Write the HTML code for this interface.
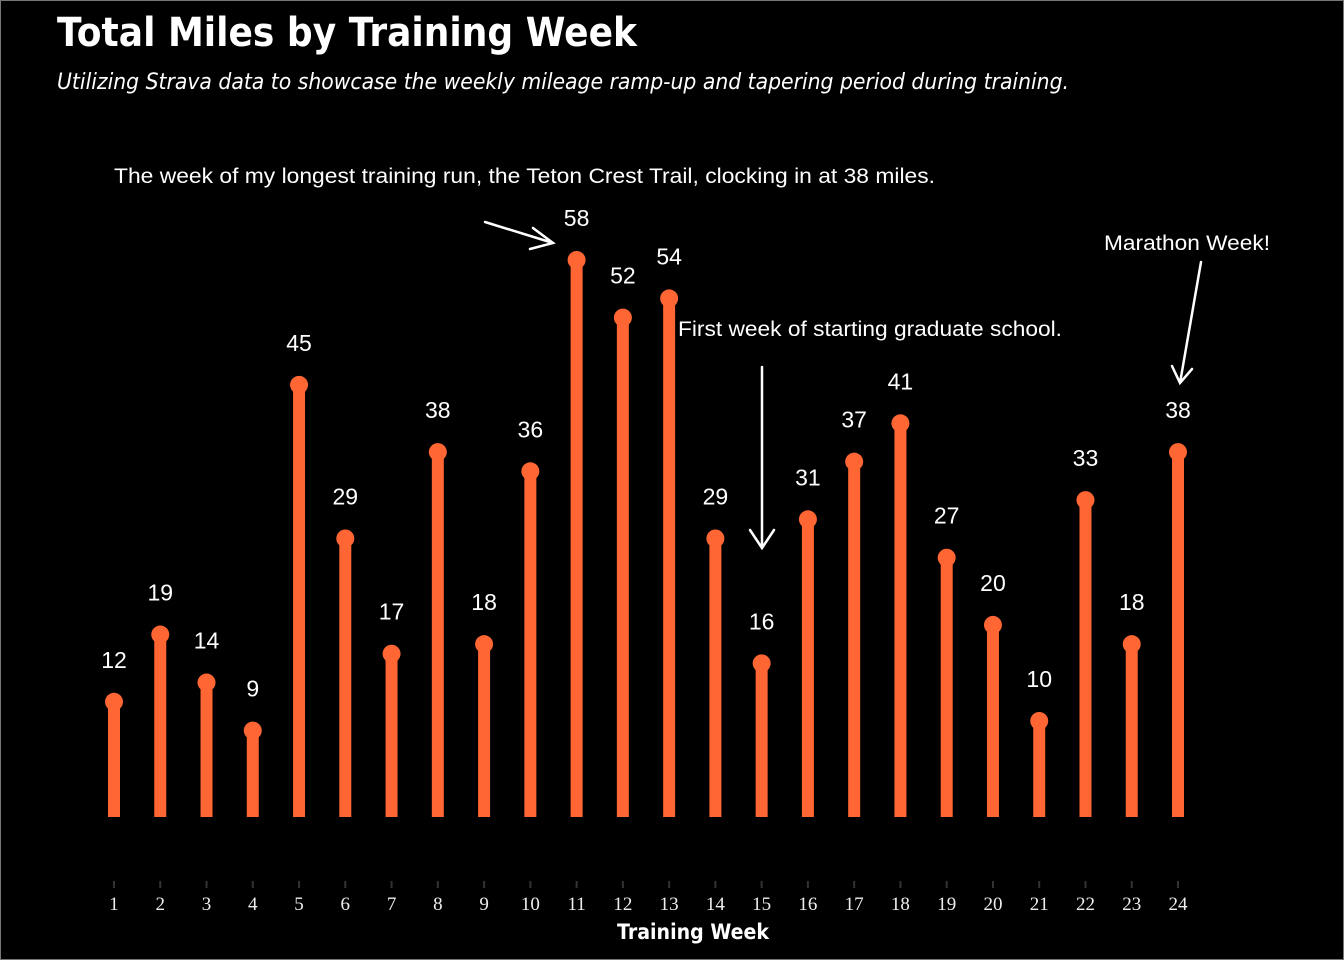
<!DOCTYPE html>
<html><head><meta charset="utf-8"><style>
html,body{margin:0;padding:0;background:#000;}
body{width:1344px;height:960px;overflow:hidden;}
svg{display:block;}
</style></head><body>
<svg width="1344" height="960" viewBox="0 0 1344 960">
<rect x="0.5" y="0.5" width="1343" height="959" fill="#000" stroke="#777" stroke-width="1"/>
<text x="57" y="46" fill="#fff" font-family="'DejaVu Sans','Liberation Sans',sans-serif" font-weight="bold" font-size="40" textLength="580" lengthAdjust="spacingAndGlyphs">Total Miles by Training Week</text>
<text x="57" y="89" fill="#fff" font-family="'DejaVu Sans','Liberation Sans',sans-serif" font-style="italic" font-size="22" textLength="1012" lengthAdjust="spacingAndGlyphs">Utilizing Strava data to showcase the weekly mileage ramp-up and tapering period during training.</text>
<g id="marks"></g>
<g font-family="'Liberation Sans',Arial,sans-serif" font-size="21" fill="#fff">
<text x="114" y="183" textLength="821" lengthAdjust="spacingAndGlyphs">The week of my longest training run, the Teton Crest Trail, clocking in at 38 miles.</text>
<text x="678" y="336" textLength="384" lengthAdjust="spacingAndGlyphs">First week of starting graduate school.</text>
<text x="1104" y="250" textLength="166" lengthAdjust="spacingAndGlyphs">Marathon Week!</text>
<g stroke="#fff" stroke-width="2.5" fill="none" stroke-linecap="round">
<path d="M485 222 L553 243 M533 228 L553 243 L530 249"/>
<path d="M762 367 L762 548 M750 530 L762 548 L774 530"/>
<path d="M1201 262 L1180 383 M1172 366 L1180 383 L1192 369"/>
</g>
</g>
<text x="693" y="939" fill="#fff" text-anchor="middle" font-family="'DejaVu Sans','Liberation Sans',sans-serif" font-weight="bold" font-size="21" textLength="152" lengthAdjust="spacingAndGlyphs">Training Week</text>
</svg>
<script>
const weeks = [1,2,3,4,5,6,7,8,9,10,11,12,13,14,15,16,17,18,19,20,21,22,23,24];
const miles = [12,19,14,9,45,29,17,38,18,36,58,52,54,29,16,31,37,41,27,20,10,33,18,38];
const xScale = w => 114 + (w - 1) * (1178 - 114) / 23;
const yScale = v => 817 - v * (817 - 260) / 58;
const g = document.getElementById('marks');
const NS = 'http://www.w3.org/2000/svg';
weeks.forEach((w, i) => {
  const x = xScale(w), y = yScale(miles[i]);
  const bar = document.createElementNS(NS, 'rect');
  bar.setAttribute('x', x - 6); bar.setAttribute('y', y);
  bar.setAttribute('width', 12); bar.setAttribute('height', 817 - y);
  bar.setAttribute('fill', '#ff6633');
  
  
  g.appendChild(bar);
  const dot = document.createElementNS(NS, 'circle');
  dot.setAttribute('cx', x); dot.setAttribute('cy', y); dot.setAttribute('r', 9);
  dot.setAttribute('fill', '#ff6633');
  
  
  g.appendChild(dot);
  const lab = document.createElementNS(NS, 'text');
  lab.setAttribute('x', x); lab.setAttribute('y', y - 34);
  lab.setAttribute('text-anchor', 'middle'); lab.setAttribute('fill', '#fff');
  lab.setAttribute('font-family', "'Liberation Sans',Arial,sans-serif");
  lab.setAttribute('font-size', '23');
  lab.textContent = miles[i];
  
  
  g.appendChild(lab);
  const tick = document.createElementNS(NS, 'rect');
  tick.setAttribute('x', x - 1); tick.setAttribute('y', 881);
  tick.setAttribute('width', 2); tick.setAttribute('height', 7);
  tick.setAttribute('fill', '#333');
  
  
  g.appendChild(tick);
  const tl = document.createElementNS(NS, 'text');
  tl.setAttribute('x', x); tl.setAttribute('y', 910);
  tl.setAttribute('text-anchor', 'middle'); tl.setAttribute('fill', '#eee');
  tl.setAttribute('font-family', "'Liberation Serif','DejaVu Serif',serif");
  tl.setAttribute('font-size', '19');
  tl.textContent = w;
  
  
  g.appendChild(tl);
});
</script>
</body></html>
